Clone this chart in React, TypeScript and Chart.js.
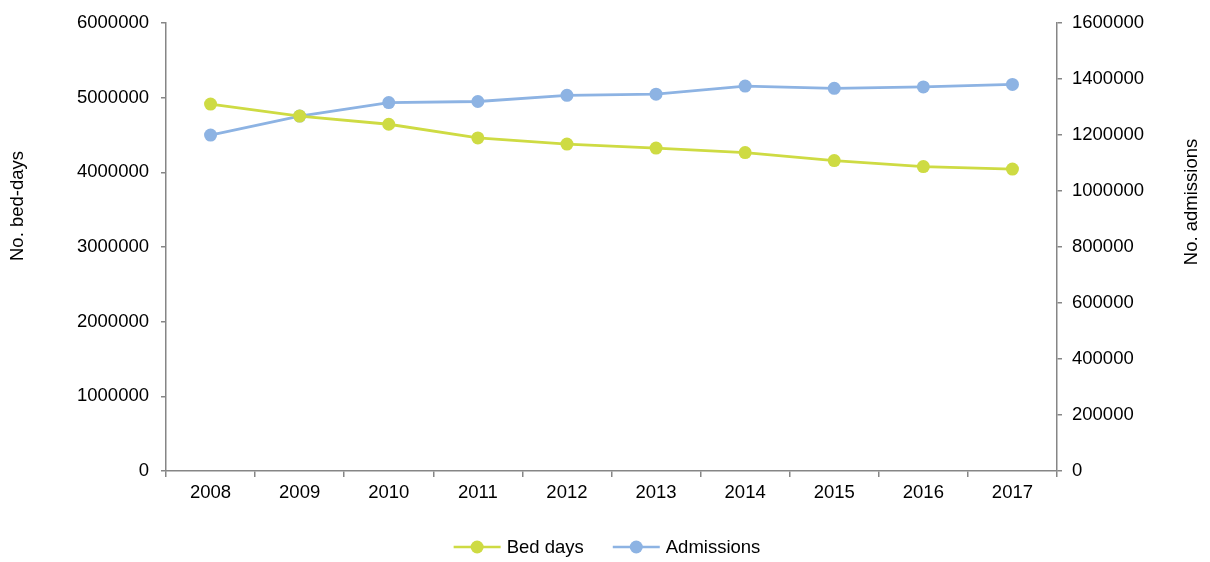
import React, { useEffect, useRef } from "react";
import { Chart, registerables } from "chart.js";

Chart.register(...registerables);

const years = ["2008", "2009", "2010", "2011", "2012", "2013", "2014", "2015", "2016", "2017"];
const bedDays = [4915000, 4754000, 4645000, 4462000, 4380000, 4326000, 4265000, 4158000, 4078000, 4045000];
const admissions = [1200000, 1268000, 1316000, 1320000, 1342000, 1346000, 1375000, 1367000, 1372000, 1381000];
const seriesNames = ["Bed days", "Admissions"];
const axisTitles = ["No. bed-days", "No. admissions"];

const GREEN = "#CEDB43";
const BLUE = "#8DB3E3";
const AXIS = "#868686";
const FONT_FAMILY = "'Liberation Sans', Arial, sans-serif";
const FS = 18.5;
const FONT_CSS = `${FS}px ${FONT_FAMILY}`;

const titlesAndLegend = {
  id: "titlesAndLegend",
  afterDraw(chart: any) {
    const ctx = chart.ctx;
    ctx.save();
    ctx.fillStyle = "#000";
    ctx.font = FONT_CSS;
    ctx.textAlign = "center";
    ctx.textBaseline = "middle";
    // axis titles, both reading bottom-to-top
    const titleSpots = [
      { x: 18, y: 206 },
      { x: 1192, y: 202 },
    ];
    axisTitles.forEach((t, i) => {
      ctx.save();
      ctx.translate(titleSpots[i].x, titleSpots[i].y);
      ctx.rotate(-Math.PI / 2);
      ctx.fillText(t, 0, 0);
      ctx.restore();
    });
    // legend
    const lineW = 47;
    const gapText = 6;
    const gapItem = 29;
    const colors = chart.data.datasets.map((d: any) => d.borderColor);
    const widths = seriesNames.map((n) => ctx.measureText(n).width);
    let total = 0;
    widths.forEach((w, i) => {
      total += lineW + gapText + w + (i < widths.length - 1 ? gapItem : 0);
    });
    let x = 607 - total / 2;
    const y = 547;
    ctx.textAlign = "left";
    seriesNames.forEach((n, i) => {
      ctx.strokeStyle = colors[i];
      ctx.lineWidth = 2.5;
      ctx.beginPath();
      ctx.moveTo(x, y);
      ctx.lineTo(x + lineW, y);
      ctx.stroke();
      ctx.fillStyle = colors[i];
      ctx.beginPath();
      ctx.arc(x + lineW / 2, y, 6.5, 0, Math.PI * 2);
      ctx.fill();
      ctx.fillStyle = "#000";
      ctx.fillText(n, x + lineW + gapText, y + 1);
      x += lineW + gapText + widths[i] + gapItem;
    });
    ctx.restore();
  },
};

export default function App() {
  const ref = useRef<HTMLCanvasElement>(null);
  useEffect(() => {
    const chart = new Chart(ref.current!, {
      type: "line",
      data: {
        labels: years,
        datasets: [
          {
            label: seriesNames[0],
            data: bedDays,
            borderColor: GREEN,
            backgroundColor: GREEN,
            borderWidth: 2.8,
            pointRadius: 6.5,
            pointBorderWidth: 0,
            yAxisID: "y",
          },
          {
            label: seriesNames[1],
            data: admissions,
            borderColor: BLUE,
            backgroundColor: BLUE,
            borderWidth: 2.8,
            pointRadius: 6.5,
            pointBorderWidth: 0,
            yAxisID: "y1",
          },
        ],
      },
      plugins: [titlesAndLegend],
      options: {
        animation: false,
        responsive: false,
        maintainAspectRatio: false,
        layout: { padding: { top: 23, bottom: 41, left: 0, right: 0 } },
        plugins: {
          tooltip: { enabled: false },
          legend: { display: false },
        },
        scales: {
          x: {
            offset: true,
            grid: {
              offset: true,
              drawOnChartArea: false,
              color: AXIS,
              tickLength: 6,
              lineWidth: 1.5,
            },
            border: { color: AXIS, width: 1.5 },
            ticks: { color: "#000", font: { family: FONT_FAMILY, size: FS }, padding: 5, maxRotation: 0 },
            afterFit: (s: any) => {
              s.height = 50;
            },
          },
          y: {
            position: "left",
            min: 0,
            max: 6000000,
            grid: { drawOnChartArea: false, color: AXIS, tickLength: 5, lineWidth: 1.5 },
            border: { color: AXIS, width: 1.5 },
            ticks: {
              stepSize: 1000000,
              color: "#000",
              font: { family: FONT_FAMILY, size: FS },
              padding: 12,
              callback: (v: any) => String(v),
            },
            afterFit: (s: any) => {
              s.width = 166;
            },
          },
          y1: {
            position: "right",
            min: 0,
            max: 1600000,
            grid: { drawOnChartArea: false, color: AXIS, tickLength: 5, lineWidth: 1.5 },
            border: { color: AXIS, width: 1.5 },
            ticks: {
              stepSize: 200000,
              color: "#000",
              font: { family: FONT_FAMILY, size: FS },
              padding: 10,
              callback: (v: any) => String(v),
            },
            afterFit: (s: any) => {
              s.width = 153;
            },
          },
        },
      },
    });
    return () => chart.destroy();
  }, []);
  return (
    <div style={{ position: "fixed", left: 0, top: 0, width: 1210, height: 562, background: "#fff" }}>
      <canvas ref={ref} width={1210} height={562} style={{ width: 1210, height: 562 }} />
    </div>
  );
}
